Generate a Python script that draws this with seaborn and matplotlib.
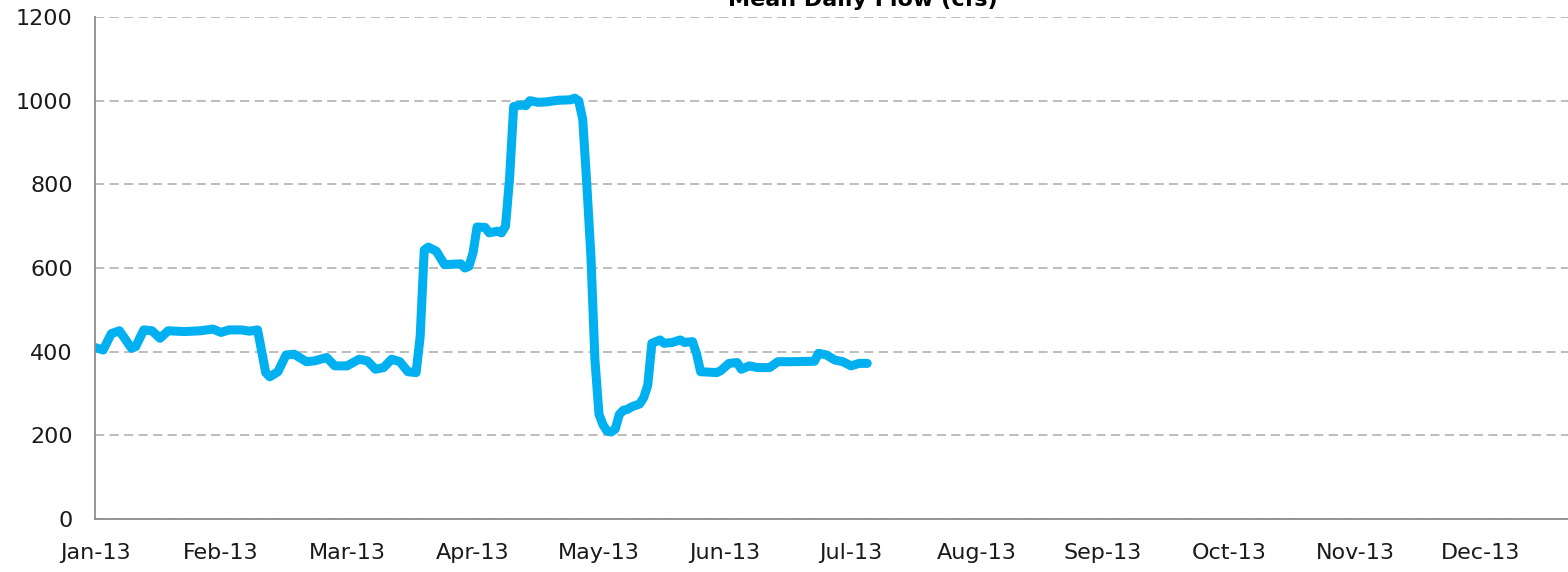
import numpy as np
import pandas as pd
import seaborn as sns
import matplotlib.pyplot as plt
import matplotlib.dates as mdates

# --- data (day of 2013, mean daily flow in cfs) ---
day_of_year = [0, 2, 4, 6, 9, 10, 12, 14, 16, 18, 22, 26, 29, 31, 33, 36, 38, 40,
               42, 43, 45, 47, 49, 52, 54, 57, 59, 62, 65, 67, 69, 71, 73, 75, 77, 79,
               80, 81, 82, 84, 86, 90, 91, 92, 93, 94, 96, 97, 99, 100, 101, 102,
               103, 105, 106, 107, 109, 111, 114, 117, 118, 119, 120, 121, 122, 123,
               124, 125, 126, 127, 128, 129, 130, 131, 132, 134, 135, 136, 137, 139,
               140, 142, 144, 145, 147, 148, 149, 153, 154, 156, 158, 159, 161, 163,
               166, 168, 171, 177, 178, 180, 182, 184, 186, 188, 190]
flow_cfs = [410, 404, 443, 450, 408, 412, 452, 450, 432, 450, 448, 450, 454, 446, 452, 452, 449, 452,
            350, 340, 352, 392, 394, 376, 378, 386, 366, 366, 382, 378, 358, 362, 382, 376, 352, 350,
            436, 643, 650, 640, 608, 610, 600, 604, 636, 698, 697, 684, 688, 684, 700, 815,
            986, 990, 988, 1000, 996, 997, 1001, 1002, 1006, 1000, 955, 800, 630, 380,
            250, 225, 210, 208, 215, 250, 260, 262, 268, 275, 290, 320, 420, 428,
            420, 422, 428, 422, 424, 395, 352, 350, 355, 372, 374, 358, 366, 362,
            362, 376, 376, 377, 396, 392, 380, 376, 366, 372, 372]

start = pd.Timestamp("2013-01-01")
dates = start + pd.to_timedelta(day_of_year, unit="D")
df = pd.DataFrame({"date": dates, "flow": flow_cfs})

# axis ticks every 31 days, like the original spreadsheet chart
tick_dates = pd.date_range(start, periods=12, freq="31D")
y_ticks = [0, 200, 400, 600, 800, 1000, 1200]

sns.set_style("white")
plt.rcParams["font.family"] = ["DejaVu Sans"]

fig = plt.figure(figsize=(15.68, 5.72), dpi=100)
ax = fig.add_axes([95 / 1568, 53 / 572, 1 - 95 / 1568, 502 / 572])

sns.lineplot(data=df, x="date", y="flow", ax=ax, color="#00B0F0", lw=6.5,
             solid_joinstyle="round", solid_capstyle="round")

ax.set_ylim(0, 1200)
ax.set_yticks(y_ticks)
ax.set_xlim(start, start + pd.Timedelta(days=362.4))
ax.set_xticks(tick_dates)
ax.xaxis.set_major_formatter(mdates.DateFormatter("%b-%y"))

ax.yaxis.grid(True, color="#ABABAB", linestyle=(0, (6, 3.5)), lw=1.1)
ax.xaxis.grid(False)
ax.set_axisbelow(True)

for side in ["top", "right"]:
    ax.spines[side].set_visible(False)
for side in ["left", "bottom"]:
    ax.spines[side].set_color("#8C8C8C")
    ax.spines[side].set_linewidth(1.3)

ax.tick_params(axis="both", direction="out", length=6, width=1.3, color="#8C8C8C",
               labelsize=16, labelcolor="#1A1A1A")
ax.tick_params(axis="x", pad=11)
ax.tick_params(axis="y", pad=10)
ax.set_xlabel("")
ax.set_ylabel("")

# title sits partly outside the top of the picture, as in the reference
fig.text(0.55, 1.0, "Mean Daily Flow (cfs)", ha="center", va="center",
         fontsize=16, fontweight="bold", color="#000000")

fig.savefig("out.png", dpi=100)
